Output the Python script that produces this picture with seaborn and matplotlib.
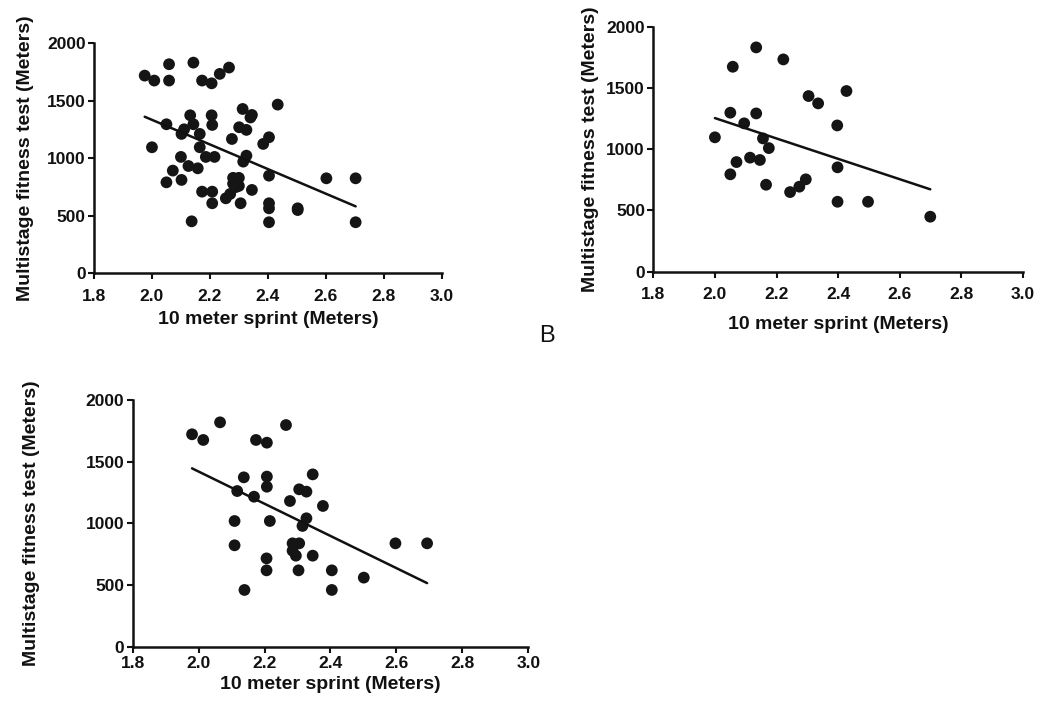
import matplotlib
matplotlib.use("Agg")
import matplotlib.pyplot as plt
import seaborn as sns
import pandas as pd

sns.set_theme(style="ticks")
plt.rcParams['font.family'] = ['Liberation Sans', 'DejaVu Sans']

# Panel A (top left)
a_sprint = [1.975, 2.008, 2.059, 2.059, 2.143, 2.173, 2.206, 2.234, 2.266, 2.434,
            2.313, 2.345, 2.340, 2.050, 2.132, 2.143, 2.206, 2.208, 2.111, 2.102,
            2.165, 2.000, 2.165, 2.301, 2.326, 2.276, 2.384, 2.404, 2.100, 2.186,
            2.216, 2.326, 2.315, 2.126, 2.158, 2.072, 2.050, 2.102, 2.404, 2.602,
            2.703, 2.280, 2.300, 2.280, 2.290, 2.300, 2.270, 2.173, 2.208, 2.255,
            2.208, 2.306, 2.345, 2.404, 2.404, 2.503, 2.503, 2.137, 2.404, 2.703]
a_mft = [1719, 1676, 1818, 1676, 1832, 1676, 1652, 1734, 1789, 1467,
         1429, 1377, 1355, 1296, 1374, 1296, 1374, 1290, 1252, 1212,
         1212, 1096, 1096, 1270, 1247, 1168, 1125, 1183, 1012, 1012,
         1012, 1023, 971, 933, 913, 893, 791, 812, 849, 826,
         826, 830, 830, 780, 750, 760, 690, 710, 710, 652,
         609, 609, 725, 609, 565, 565, 550, 452, 444, 444]

# Panel B (top right)
b_sprint = [2.000, 2.050, 2.058, 2.134, 2.222, 2.095, 2.134, 2.156, 2.175, 2.070,
            2.050, 2.114, 2.146, 2.166, 2.244, 2.274, 2.295, 2.304, 2.335, 2.427,
            2.397, 2.398, 2.398, 2.497, 2.699]
b_mft = [1097, 1298, 1673, 1831, 1733, 1211, 1292, 1088, 1009, 895,
         795, 931, 912, 710, 650, 694, 754, 1434, 1374, 1475,
         1194, 852, 571, 571, 449]

# Panel C (bottom)
c_sprint = [1.980, 2.014, 2.065, 2.265, 2.174, 2.207, 2.137, 2.207, 2.207, 2.117,
            2.168, 2.346, 2.305, 2.327, 2.277, 2.377, 2.109, 2.216, 2.327, 2.315,
            2.109, 2.285, 2.305, 2.285, 2.295, 2.346, 2.206, 2.206, 2.303, 2.404,
            2.501, 2.139, 2.404, 2.597, 2.693]
c_mft = [1722, 1676, 1819, 1797, 1676, 1654, 1373, 1379, 1297, 1262,
         1216, 1397, 1276, 1257, 1181, 1141, 1019, 1019, 1041, 979,
         822, 838, 838, 778, 738, 738, 716, 619, 619, 619,
         560, 460, 460, 838, 838]

x_ticks = [1.8, 2.0, 2.2, 2.4, 2.6, 2.8, 3.0]
y_ticks = [0, 500, 1000, 1500, 2000]
x_label = "10 meter sprint (Meters)"
y_label = "Multistage fitness test (Meters)"
panel_label = "B"

fig = plt.figure(figsize=(10.43, 7.12), dpi=100)
W, H = 1043, 712

def add_axes(l, r, t, b):
    return fig.add_axes([l / W, 1 - b / H, (r - l) / W, (b - t) / H])

# (axes, x data, y data, x tick pad, x labelpad, y labelpad)
panels = [
    (add_axes(94, 441.7, 43.3, 273.3), a_sprint, a_mft, 7, 5, 9),
    (add_axes(653.3, 1023, 26.7, 271.7), b_sprint, b_mft, 7, 10, 5),
    (add_axes(132.7, 528.3, 400, 646.7), c_sprint, c_mft, 3, 3, 33),
]

for ax, xs, ys, xpad, xlp, ylp in panels:
    df = pd.DataFrame({"sprint": xs, "mft": ys})
    sns.regplot(data=df, x="sprint", y="mft", ax=ax, ci=None, truncate=True,
                scatter_kws=dict(s=72, color="#151515", edgecolor="none", alpha=1, clip_on=False),
                line_kws=dict(color="#111111", lw=1.8))
    ax.set_xlim(1.8, 3.0)
    ax.set_ylim(0, 2000)
    ax.set_xticks(x_ticks)
    ax.set_xticklabels([f"{v:.1f}" for v in x_ticks])
    ax.set_yticks(y_ticks)
    ax.set_yticklabels([str(v) for v in y_ticks])
    for s in ["top", "right"]:
        ax.spines[s].set_visible(False)
    for s in ["left", "bottom"]:
        ax.spines[s].set_color("#111111")
        ax.spines[s].set_linewidth(1.8)
    ax.tick_params(axis="both", direction="out", length=4, width=1.5, color="#111111",
                   labelsize=12.5, labelcolor="#111111")
    ax.tick_params(axis="x", pad=xpad)
    ax.tick_params(axis="y", pad=2)
    for lab in ax.get_xticklabels() + ax.get_yticklabels():
        lab.set_fontweight("bold")
    ax.set_xlabel(x_label, fontsize=14, fontweight="bold", color="#111111", labelpad=xlp)
    ax.set_ylabel(y_label, fontsize=14, fontweight="bold", color="#111111", labelpad=ylp)
    ax.set_facecolor("white")

fig.text(547 / W, 1 - 336 / H, panel_label, fontsize=17, ha="center", va="center", color="#111111")

fig.savefig("out.png", dpi=100, facecolor="white")
